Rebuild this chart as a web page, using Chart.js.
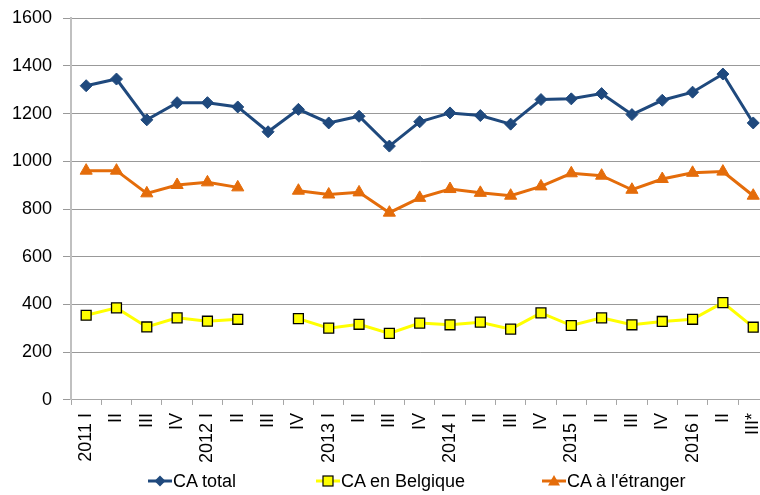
<!DOCTYPE html>
<html><head><meta charset="utf-8">
<script src="https://cdn.jsdelivr.net/npm/chart.js@4.4.0/dist/chart.umd.min.js"></script>
<style>
html,body{margin:0;padding:0;background:#fff;overflow:hidden;}
#wrap{position:relative;width:783px;height:495px;}
#legend{position:absolute;left:0;top:468px;width:760px;height:26px;font-family:'Liberation Sans',Arial,sans-serif;font-size:18px;color:#000;white-space:nowrap;}
.item{position:absolute;top:0;display:flex;align-items:center;height:26px;}
.item svg{margin-right:1px;}
</style></head><body>
<div id="wrap"><canvas id="c" width="783" height="495"></canvas><div id="legend"></div></div>
<script>
const categories = ['2011 I','II','III','IV','2012 I','II','III','IV','2013 I','II','III','IV','2014 I','II','III','IV','2015 I','II','III','IV','2016 I','II','III*'];
const seriesNames = ['CA total','CA en Belgique',"CA à l'étranger"];
const caTotal =    [1317,1345,1174,1246,1246,1228,1124,1218,1161,1189,1064,1166,1203,1192,1156,1259,1262,1284,1196,1256,1290,1366,1161];
const caBelgique = [355,386,306,344,330,338,null,341,301,317,279,322,315,326,297,365,312,344,315,329,338,408,305];
const caEtranger = [961,961,866,901,912,891,null,877,861,870,785,847,884,868,856,895,950,940,881,926,952,957,856];
const yMin = 0, yMax = 1600, yStep = 200;

const FONT = "'Liberation Sans',Arial,sans-serif";
const BLUE = '#1F497D', YEL = '#FFFF00', ORANGE = '#E46C0A';

new Chart(document.getElementById('c'), {
  type: 'line',
  data: {
    labels: categories,
    datasets: [
      {label: seriesNames[0], data: caTotal, borderColor: BLUE, backgroundColor: BLUE, borderWidth: 3,
       pointStyle: 'rectRot', pointRadius: 6, pointBorderWidth: 1, pointBorderColor: BLUE, pointBackgroundColor: BLUE, tension: 0},
      {label: seriesNames[1], data: caBelgique, borderColor: YEL, backgroundColor: YEL, borderWidth: 3,
       pointStyle: 'rect', pointRadius: 7, pointBorderWidth: 1.3, pointBorderColor: '#000', pointBackgroundColor: YEL, tension: 0},
      {label: seriesNames[2], data: caEtranger, borderColor: ORANGE, backgroundColor: ORANGE, borderWidth: 3,
       pointStyle: 'triangle', pointRadius: 7, pointBorderWidth: 1, pointBorderColor: ORANGE, pointBackgroundColor: ORANGE, tension: 0}
    ]
  },
  options: {
    responsive: false,
    animation: false,
    spanGaps: false,
    layout: {padding: {left: 0, top: 1, right: 0, bottom: 24}},
    plugins: {legend: {display: false}, tooltip: {enabled: false}},
    scales: {
      x: {
        offset: true,
        grid: {offset: true, drawOnChartArea: false, drawTicks: true, tickLength: 5, color: '#a6a6a6'},
        border: {display: true, color: '#a6a6a6', width: 1},
        ticks: {minRotation: 90, maxRotation: 90, autoSkip: false, padding: 8, color: '#000', font: {family: FONT, size: 18}}
      },
      y: {
        min: yMin, max: yMax,
        afterFit: s => { s.width = 71; },
        grid: {color: '#999999', lineWidth: 1, tickLength: 8},
        border: {display: true, color: '#c0c0c0', width: 2},
        ticks: {stepSize: yStep, padding: 11, color: '#000', font: {family: FONT, size: 18, lineHeight: 0.8},
                callback: v => String(v)}
      }
    }
  }
});

// HTML legend (line + marker, as in the original)
const legendLeft = [148, 316, 542];
const markers = [
  `<svg width="24" height="14"><line x1="0" y1="7" x2="24" y2="7" stroke="${BLUE}" stroke-width="3"/><polygon points="12,1.5 17.5,7 12,12.5 6.5,7" fill="${BLUE}"/></svg>`,
  `<svg width="24" height="14"><line x1="0" y1="7" x2="24" y2="7" stroke="${YEL}" stroke-width="3"/><rect x="7" y="2" width="10" height="10" fill="${YEL}" stroke="#000" stroke-width="1.2"/></svg>`,
  `<svg width="24" height="14"><line x1="0" y1="7" x2="24" y2="7" stroke="${ORANGE}" stroke-width="3"/><polygon points="12,1 18,11.5 6,11.5" fill="${ORANGE}"/></svg>`
];
const lg = document.getElementById('legend');
seriesNames.forEach((n, i) => {
  const d = document.createElement('div');
  d.className = 'item';
  d.style.left = legendLeft[i] + 'px';
  d.innerHTML = markers[i];
  const s = document.createElement('span');
  s.textContent = n;
  d.appendChild(s);
  lg.appendChild(d);
});
</script>
</body></html>
